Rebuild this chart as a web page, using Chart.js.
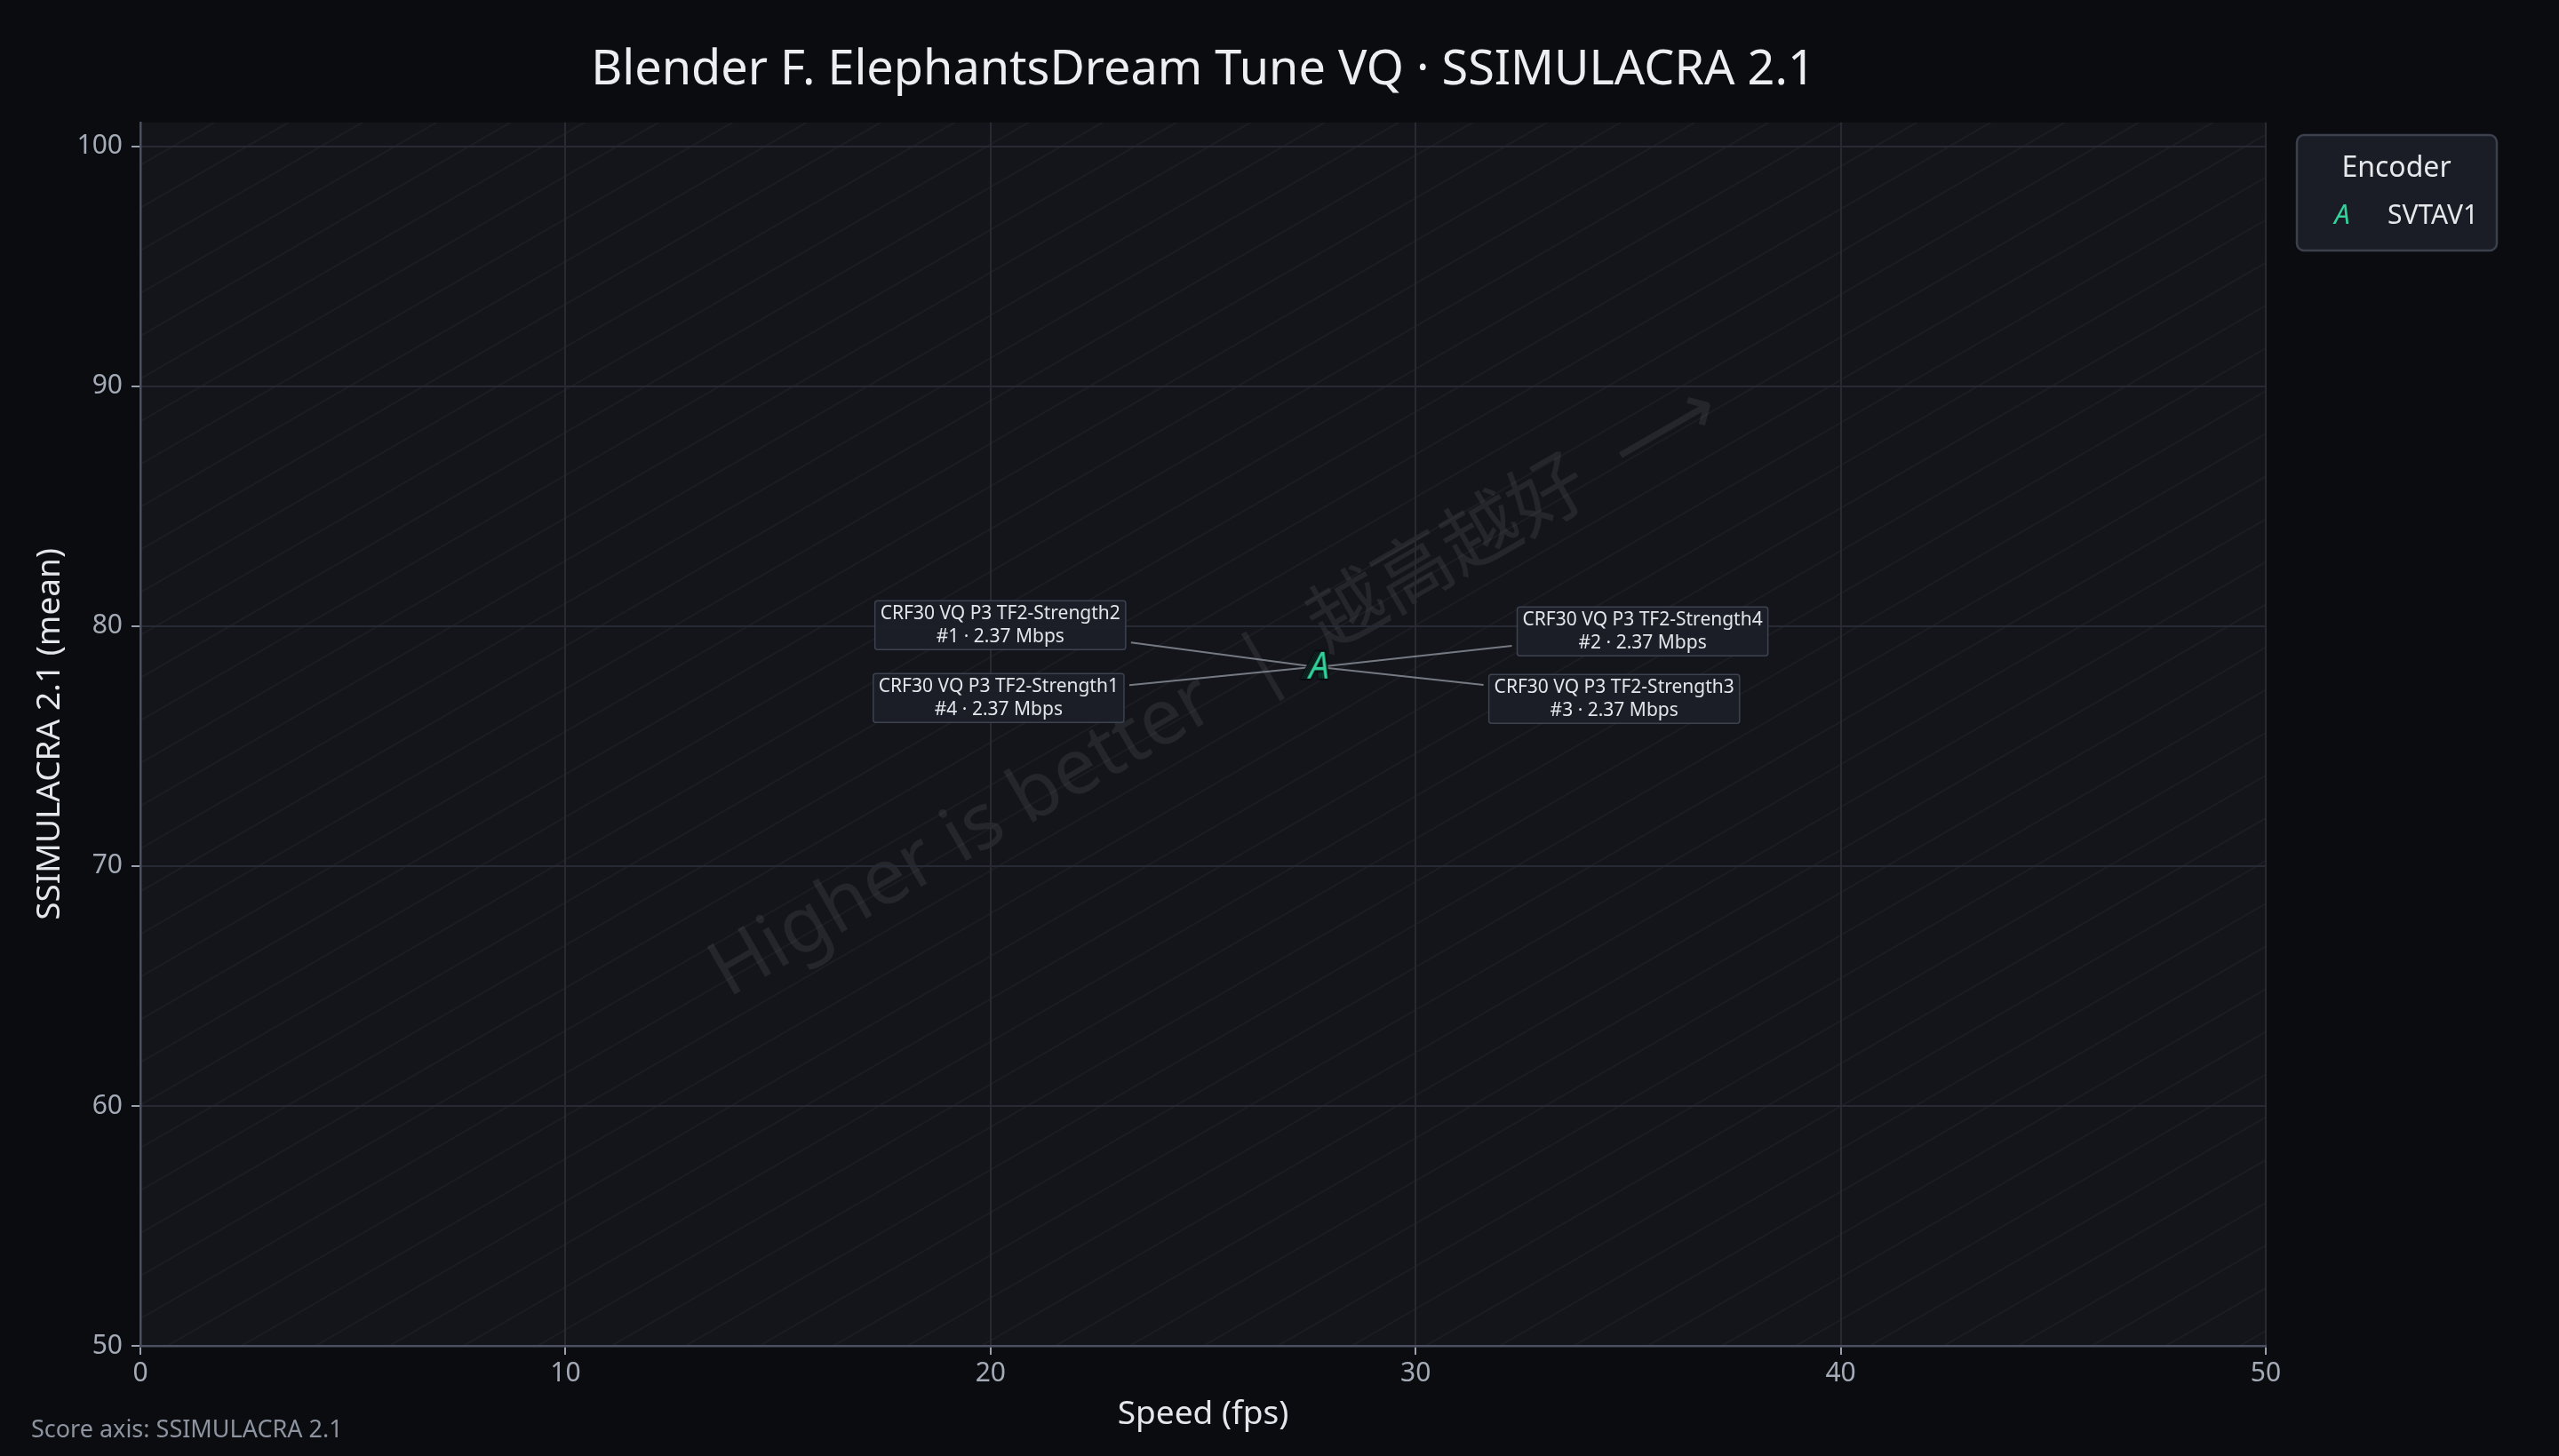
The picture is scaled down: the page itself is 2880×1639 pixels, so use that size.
<!DOCTYPE html>
<html>
<head>
<meta charset="utf-8">
<title>Blender F. ElephantsDream Tune VQ · SSIMULACRA 2.1</title>
<script src="https://cdn.jsdelivr.net/npm/chart.js@4.4.1/dist/chart.umd.min.js"></script>
<style>
  html, body { margin: 0; padding: 0; background: #0a0c10; }
  #wrap { width: 2880px; height: 1639px; }
</style>
</head>
<body>
<div id="wrap"><canvas id="chart" width="2880" height="1639"></canvas></div>
<script>
// --- data ---
const encoderName = 'SVTAV1';
const presets = ['CRF30 VQ P3 TF2-Strength1', 'CRF30 VQ P3 TF2-Strength2', 'CRF30 VQ P3 TF2-Strength3', 'CRF30 VQ P3 TF2-Strength4'];
const speedFps = [27.61, 27.65, 27.69, 27.73];
const ssimulacraMean = [78.3, 78.3, 78.3, 78.3];
const ranks = [4, 1, 3, 2];
const bitrateMbps = [2.37, 2.37, 2.37, 2.37];
const xTicks = [0, 10, 20, 30, 40, 50];
const yTicks = [50, 60, 70, 80, 90, 100];

// label box placement (px offset from the point)
const labelOffsets = [[-355, 35], [-355, -47], [334, 36], [364, -40]];

const FONT = '"Noto Sans", "Noto Sans CJK SC", "DejaVu Sans", sans-serif';
const GREEN = '#31d39b';
Chart.defaults.font.family = FONT;

// marker: italic "A" with dark outline
const marker = document.createElement('canvas');
marker.width = 52; marker.height = 52;
(() => {
  const c = marker.getContext('2d');
  c.font = 'italic 41px ' + FONT;
  c.textAlign = 'center';
  c.textBaseline = 'middle';
  c.lineJoin = 'round';
  c.lineWidth = 4;
  c.strokeStyle = '#0b0d11';
  c.strokeText('A', 26, 27);
  c.fillStyle = GREEN;
  c.fillText('A', 26, 27);
})();

const points = speedFps.map((x, i) => ({ x: x, y: ssimulacraMean[i] }));

function labelBox(ctx, pt, i) {
  const lines = [presets[i], '#' + ranks[i] + ' · ' + bitrateMbps[i].toFixed(2) + ' Mbps'];
  ctx.font = '21px ' + FONT;
  const w = Math.max(...lines.map(l => ctx.measureText(l).width)) + 12;
  const h = 55;
  const cx = pt.x + labelOffsets[i][0], cy = pt.y + labelOffsets[i][1];
  return { lines, cx, cy, w, h, x0: cx - w / 2, y0: cy - h / 2 };
}

const decor = {
  id: 'decor',
  beforeDraw(chart) {
    const { ctx, chartArea: a } = chart;
    ctx.save();
    ctx.fillStyle = '#0a0c10';
    ctx.fillRect(0, 0, chart.width, chart.height);
    ctx.fillStyle = '#13151a';
    ctx.fillRect(a.left, a.top, a.right - a.left, a.bottom - a.top);

    // diagonal hatch
    ctx.beginPath();
    ctx.rect(a.left, a.top, a.right - a.left, a.bottom - a.top);
    ctx.clip();
    ctx.strokeStyle = 'rgba(255,255,255,0.035)';
    ctx.lineWidth = 2;
    const t = Math.tan(Math.PI / 6);
    const H = a.bottom - a.top;
    for (let x0 = a.left - H / t; x0 < a.right; x0 += 83.3) {
      ctx.beginPath();
      ctx.moveTo(x0, a.bottom);
      ctx.lineTo(x0 + H / t, a.top);
      ctx.stroke();
    }

    // watermark
    const cx = (a.left + a.right) / 2 + 14, cy = (a.top + a.bottom) / 2 - 48;
    ctx.translate(cx, cy);
    ctx.rotate(-Math.PI / 6);
    ctx.font = '87px ' + FONT;
    ctx.fillStyle = 'rgba(255,255,255,0.075)';
    ctx.textAlign = 'center';
    ctx.textBaseline = 'middle';
    ctx.fillText('Higher is better  |  越高越好  ⟶', 0, 0);
    ctx.restore();
  },
  beforeDatasetsDraw(chart) {
    const { ctx } = chart;
    const meta = chart.getDatasetMeta(0);
    ctx.save();
    ctx.strokeStyle = 'rgba(150,155,165,0.75)';
    ctx.lineWidth = 2;
    meta.data.forEach((el, i) => {
      const b = labelBox(ctx, el, i);
      const dx = el.x - b.cx, dy = el.y - b.cy;
      const s = Math.min((b.w / 2 + 6) / Math.abs(dx || 1e-6), (b.h / 2 + 6) / Math.abs(dy || 1e-6));
      ctx.beginPath();
      ctx.moveTo(b.cx + dx * s, b.cy + dy * s);
      ctx.lineTo(el.x, el.y);
      ctx.stroke();
    });
    ctx.restore();
  },
  afterDatasetsDraw(chart) {
    const { ctx } = chart;
    const meta = chart.getDatasetMeta(0);
    ctx.save();
    meta.data.forEach((el, i) => {
      const b = labelBox(ctx, el, i);
      ctx.beginPath();
      ctx.roundRect(b.x0, b.y0, b.w, b.h, 3);
      ctx.fillStyle = 'rgba(27,31,39,0.95)';
      ctx.fill();
      ctx.strokeStyle = '#3c4250';
      ctx.lineWidth = 1.5;
      ctx.stroke();
      ctx.fillStyle = '#e2e5ea';
      ctx.textAlign = 'center';
      ctx.textBaseline = 'middle';
      ctx.fillText(b.lines[0], b.cx, b.cy - 13);
      ctx.fillText(b.lines[1], b.cx, b.cy + 13);
    });
    ctx.restore();
  },
  afterDraw(chart) {
    const { ctx } = chart;
    ctx.save();
    // legend
    ctx.beginPath();
    ctx.roundRect(2585, 152, 225, 130, 8);
    ctx.fillStyle = '#1a1d25';
    ctx.fill();
    ctx.strokeStyle = '#3b404c';
    ctx.lineWidth = 2.5;
    ctx.stroke();
    ctx.textBaseline = 'middle';
    ctx.textAlign = 'center';
    ctx.fillStyle = '#e6e8ec';
    ctx.font = '32px ' + FONT;
    ctx.fillText('Encoder', 2697, 190);
    ctx.font = 'italic 31px ' + FONT;
    ctx.fillStyle = GREEN;
    ctx.fillText('A', 2636, 243);
    ctx.textAlign = 'left';
    ctx.font = '30px ' + FONT;
    ctx.fillStyle = '#e6e8ec';
    ctx.fillText(chart.data.datasets[0].label, 2687, 243);

    // footer
    ctx.font = '27px ' + FONT;
    ctx.fillStyle = '#8d94a0';
    ctx.fillText('Score axis: SSIMULACRA 2.1', 35, 1610);
    ctx.restore();
  }
};

const tickFont = { size: 30 };
const gridStyle = { color: '#272a32', lineWidth: 2, tickColor: '#9aa1ad', tickLength: 10, tickWidth: 2 };

new Chart(document.getElementById('chart'), {
  type: 'scatter',
  data: {
    datasets: [{
      label: encoderName,
      data: points,
      pointStyle: marker,
      pointRadius: 20,
      pointHoverRadius: 20
    }]
  },
  options: {
    responsive: false,
    animation: false,
    events: [],
    layout: { padding: { left: 0, right: 330, top: 0, bottom: 0 } },
    plugins: {
      legend: { display: false },
      tooltip: { enabled: false },
      title: {
        display: true,
        fullSize: false,
        text: 'Blender F. ElephantsDream Tune VQ · SSIMULACRA 2.1',
        color: '#eceef2',
        font: { size: 54, weight: 'normal', lineHeight: 1.2 },
        padding: { top: 47, bottom: 26 }
      }
    },
    scales: {
      x: {
        type: 'linear',
        min: 0, max: 50,
        afterBuildTicks: s => { s.ticks = xTicks.map(v => ({ value: v })); },
        afterFit: s => { s.height = 124; },
        ticks: { color: '#a4abb6', font: tickFont, padding: 3 },
        grid: gridStyle,
        border: { color: '#4a5060', width: 2.5 },
        title: { display: true, text: 'Speed (fps)', color: '#e3e6ea', font: { size: 37 }, padding: { top: 0, bottom: 24 } }
      },
      y: {
        type: 'linear',
        min: 50, max: 101,
        afterBuildTicks: s => { s.ticks = yTicks.map(v => ({ value: v })); },
        afterFit: s => { s.width = 158; },
        ticks: { color: '#a4abb6', font: tickFont, padding: 10 },
        grid: gridStyle,
        border: { color: '#4a5060', width: 2.5 },
        title: { display: true, text: 'SSIMULACRA 2.1 (mean)', color: '#e3e6ea', font: { size: 37 }, padding: { top: 34, bottom: 0 } }
      }
    }
  },
  plugins: [decor]
});
</script>
</body>
</html>
